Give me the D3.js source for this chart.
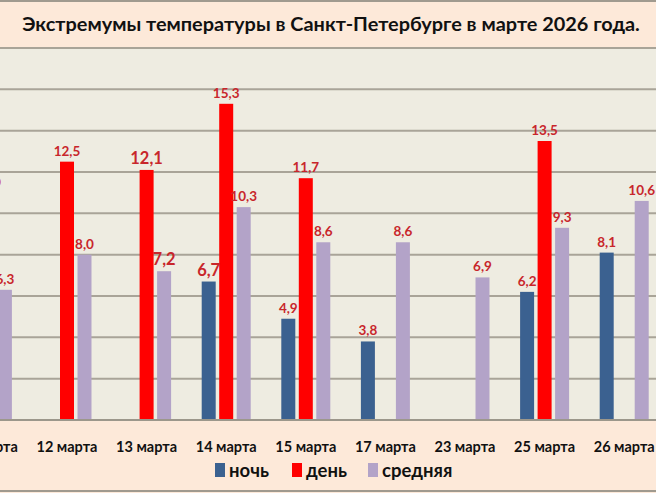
<!DOCTYPE html>
<html>
<head>
<meta charset="utf-8">
<script src="https://cdn.jsdelivr.net/npm/d3@7"></script>
<style>
  html, body { margin: 0; padding: 0; background: #fde9d9; }
  svg { display: block; }
</style>
</head>
<body>
<div id="chart"></div>
<script>
// данные
var categories = ["11 марта", "12 марта", "13 марта", "14 марта", "15 марта", "17 марта", "23 марта", "25 марта", "26 марта"];
var night   = [null, null, null, 6.7, 4.9, 3.8, null, 6.2, 8.1];
var day     = [11.0, 12.5, 12.1, 15.3, 11.7, null, null, 13.5, null];
var average = [6.3, 8.0, 7.2, 10.3, 8.6, 8.6, 6.9, 9.3, 10.6];
var seriesNames = ["ночь", "день", "средняя"];
var yTicks = [0, 2, 4, 6, 8, 10, 12, 14, 16, 18];
var titleText = "Экстремумы температуры в Санкт-Петербурге в марте 2026 года.";

// подписи, которые в оригинале крупнее
var bigLabels = { "13 марта|день": 1, "13 марта|средняя": 1, "14 марта|ночь": 1 };

var W = 656, H = 493;
var colors = { "ночь": "#3b6190", "день": "#ff0000", "средняя": "#b3a3c8" };
var font = "Lato, 'Open Sans', sans-serif";

var svg = d3.select("#chart").append("svg")
    .attr("width", W)
    .attr("height", H);

// фон
svg.append("rect").attr("x", 0).attr("y", 0).attr("width", W).attr("height", H).attr("fill", "#fde9d9");
svg.append("rect").attr("x", 0).attr("y", 48).attr("width", W).attr("height", 372).attr("fill", "#eeece1");

var y = d3.scaleLinear().domain([0, 18]).range([420, 48]);

// ось x шире окна: крайние группы обрезаны как в оригинале
var x = d3.scaleBand().domain(categories).range([-52.4, 664]).padding(0);
var xs = d3.scaleBand().domain(seriesNames).range([-26.25, 26.25]).paddingInner(0.2).paddingOuter(0.1);

// сетка
svg.append("g").selectAll("line")
    .data(yTicks)
    .enter().append("line")
    .attr("x1", 0).attr("x2", W)
    .attr("y1", function (d) { return y(d); })
    .attr("y2", function (d) { return y(d); })
    .attr("stroke", "#a9a498")
    .attr("stroke-width", 2);

var rows = [];
categories.forEach(function (c, i) {
    [night, day, average].forEach(function (arr, k) {
        if (arr[i] != null) rows.push({ cat: c, s: seriesNames[k], v: arr[i] });
    });
});

function cx(d) { return x(d.cat) + x.bandwidth() / 2 + xs(d.s) + xs.bandwidth() / 2; }

svg.append("g").selectAll("rect")
    .data(rows)
    .enter().append("rect")
    .attr("x", function (d) { return cx(d) - xs.bandwidth() / 2; })
    .attr("y", function (d) { return y(d.v); })
    .attr("width", xs.bandwidth())
    .attr("height", function (d) { return y(0) - y(d.v); })
    .attr("fill", function (d) { return colors[d.s]; });

svg.append("g").selectAll("text")
    .data(rows)
    .enter().append("text")
    .attr("x", cx)
    .attr("y", function (d) { return y(d.v) - 6; })
    .attr("text-anchor", "middle")
    .style("font-family", font)
    .style("font-weight", "bold")
    .style("font-size", function (d) { return bigLabels[d.cat + "|" + d.s] ? "16.5px" : "13.5px"; })
    .attr("fill", "#c8262b")
    .text(function (d) { return d3.format(".1f")(d.v).replace(".", ","); });

// линии рамки
svg.append("line").attr("x1", 0).attr("x2", W).attr("y1", 48).attr("y2", 48).attr("stroke", "#a9a498").attr("stroke-width", 2);
svg.append("line").attr("x1", 0).attr("x2", W).attr("y1", 420).attr("y2", 420).attr("stroke", "#9c978b").attr("stroke-width", 2);
svg.append("line").attr("x1", 0).attr("x2", W).attr("y1", 1).attr("y2", 1).attr("stroke", "#a09a8f").attr("stroke-width", 2);
svg.append("line").attr("x1", 0).attr("x2", W).attr("y1", 491).attr("y2", 491).attr("stroke", "#a09a8f").attr("stroke-width", 2);

// подписи категорий
svg.append("g").selectAll("text")
    .data(categories)
    .enter().append("text")
    .attr("x", function (d) { return x(d) + x.bandwidth() / 2; })
    .attr("y", 452)
    .attr("text-anchor", "middle")
    .style("font-family", font)
    .style("font-weight", "bold")
    .style("font-size", "14.5px")
    .attr("fill", "#111")
    .text(function (d) { return d; });

// заголовок
var title = svg.append("text")
    .attr("x", 331)
    .attr("y", 31)
    .attr("text-anchor", "middle")
    .style("font-family", font)
    .style("font-weight", "bold")
    .style("font-size", "19px")
    .attr("fill", "#111")
    .text(titleText);
var tw = title.node().getComputedTextLength();
title.style("font-size", (19 * 618 / tw) + "px");

// легенда
var legendX = [215, 292, 368];
var legend = svg.append("g").selectAll("g")
    .data(seriesNames)
    .enter().append("g")
    .attr("transform", function (d, i) { return "translate(" + legendX[i] + ",463)"; });
legend.append("rect")
    .attr("width", 10).attr("height", 14)
    .attr("fill", function (d) { return colors[d]; });
legend.append("text")
    .attr("x", 14).attr("y", 14)
    .style("font-family", font)
    .style("font-weight", "bold")
    .style("font-size", "18.5px")
    .attr("fill", "#111")
    .text(function (d) { return d; });
</script>
</body>
</html>
